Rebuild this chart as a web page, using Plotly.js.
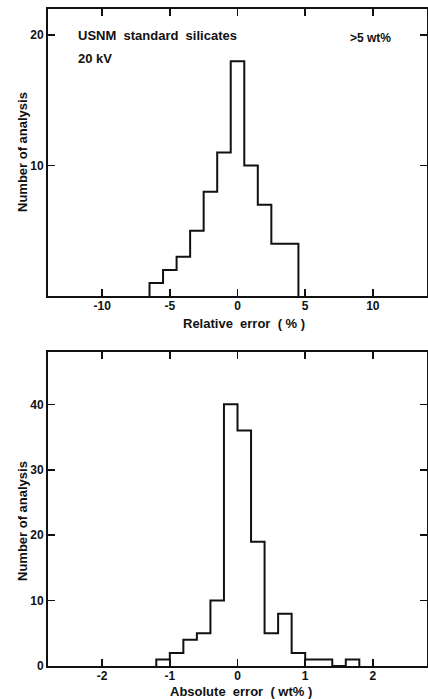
<!DOCTYPE html>
<html>
<head>
<meta charset="utf-8">
<script src="https://cdn.plot.ly/plotly-3.0.1.min.js"></script>
<style>html,body{margin:0;padding:0;background:#fff;}#chart{width:428px;height:699px;}</style>
</head>
<body>
<div id="chart"></div>
<script>
// Top histogram: relative error (%), bin width 1
const relCenters = [-6, -5, -4, -3, -2, -1, 0, 1, 2, 3, 4];
const relCounts  = [ 1,  2,  3,  5,  8, 11, 18, 10, 7, 4, 4];
const relBinWidth = 1;
const relTickVals = [-10, -5, 0, 5, 10];
const relTickText = ['-10', '-5', '0', '5', '10'];
const relYTicks = [10, 20];

// Bottom histogram: absolute error (wt%), bin width 0.2
const absCenters = [-1.1, -0.9, -0.7, -0.5, -0.3, -0.1, 0.1, 0.3, 0.5, 0.7, 0.9, 1.1, 1.3, 1.5, 1.7];
const absCounts  = [   1,    2,    4,    5,   10,   40,  36,  19,   5,   8,   2,   1,   1,   0,   1];
const absBinWidth = 0.2;
const absTickVals = [-2, -1, 0, 1, 2];
const absTickText = ['-2', '-1', '0', '1', '2'];
const absYTicks = [0, 10, 20, 30, 40];

const topXTitle = 'Relative  error  ( % )';
const botXTitle = 'Absolute  error  ( wt% )';
const yTitle = 'Number of analysis';

function stepOutline(centers, counts, w) {
  const x = [centers[0] - w / 2];
  const y = [0];
  for (let i = 0; i < centers.length; i++) {
    x.push(centers[i] - w / 2);
    y.push(counts[i]);
  }
  x.push(centers[centers.length - 1] + w / 2);
  y.push(0);
  return {x, y};
}

const relStep = stepOutline(relCenters, relCounts, relBinWidth);
const absStep = stepOutline(absCenters, absCounts, absBinWidth);

const lineStyle = {color: '#111', width: 2, shape: 'hv'};
const traces = [
  {x: relStep.x, y: relStep.y, xaxis: 'x', yaxis: 'y', type: 'scatter', mode: 'lines', line: lineStyle, hoverinfo: 'skip'},
  {x: absStep.x, y: absStep.y, xaxis: 'x2', yaxis: 'y2', type: 'scatter', mode: 'lines', line: lineStyle, hoverinfo: 'skip'}
];

const W = 428, H = 699;
const xDom = [48 / W, 427 / W];
const FAM = 'Liberation Sans, Arial, sans-serif';
const txtFont = {family: FAM, size: 13, color: '#111', weight: 'bold'};
const axisCommon = {
  ticks: 'inside', ticklen: 7, tickwidth: 1.5, tickcolor: '#111',
  showline: true, linewidth: 2, linecolor: '#111', mirror: 'ticks',
  showgrid: false, zeroline: false, automargin: false,
  tickfont: {family: FAM, size: 12, color: '#111', weight: 'bold'}
};

function paperAnn(px, py, text, extra) {
  return Object.assign({xref: 'paper', yref: 'paper', x: px / W, y: 1 - py / H,
    xanchor: 'center', yanchor: 'middle', showarrow: false, borderpad: 0, text: text, font: txtFont}, extra || {});
}

const layout = {
  width: W, height: H,
  margin: {l: 0, r: 0, t: 0, b: 0},
  paper_bgcolor: '#fff', plot_bgcolor: '#fff',
  showlegend: false,
  font: {family: FAM, color: '#111'},
  xaxis: Object.assign({}, axisCommon, {
    domain: xDom, anchor: 'y', range: [-14, 14], ticklabelstandoff: -2,
    tickmode: 'array', tickvals: relTickVals, ticktext: relTickText
  }),
  yaxis: Object.assign({}, axisCommon, {
    domain: [1 - 296 / H, 1 - 9 / H], anchor: 'x', range: [0, 22],
    tickmode: 'array', tickvals: relYTicks
  }),
  xaxis2: Object.assign({}, axisCommon, {
    domain: xDom, anchor: 'y2', range: [-2.8, 2.8], ticklabelstandoff: -2,
    tickmode: 'array', tickvals: absTickVals, ticktext: absTickText
  }),
  yaxis2: Object.assign({}, axisCommon, {
    domain: [1 - 666 / H, 1 - 352 / H], anchor: 'x2', range: [0, 48],
    tickmode: 'array', tickvals: absYTicks
  }),
  annotations: [
    paperAnn(244, 323, topXTitle),
    paperAnn(241, 691, botXTitle),
    paperAnn(22, 152, yTitle, {textangle: -90}),
    paperAnn(22, 521, yTitle, {textangle: -90}),
    {xref: 'x', yref: 'y', x: -11.9, y: 20, xanchor: 'left', yanchor: 'middle', showarrow: false,
     text: 'USNM  standard  silicates', font: txtFont},
    {xref: 'x', yref: 'y', x: -11.9, y: 18.2, xanchor: 'left', yanchor: 'middle', showarrow: false,
     text: '20 kV', font: txtFont},
    {xref: 'x', yref: 'y', x: 8.2, y: 19.8, xanchor: 'left', yanchor: 'middle', showarrow: false,
     text: '>5 wt%', font: Object.assign({}, txtFont, {size: 12})}
  ]
};

Plotly.newPlot('chart', traces, layout, {staticPlot: true, displayModeBar: false});
</script>
</body>
</html>
